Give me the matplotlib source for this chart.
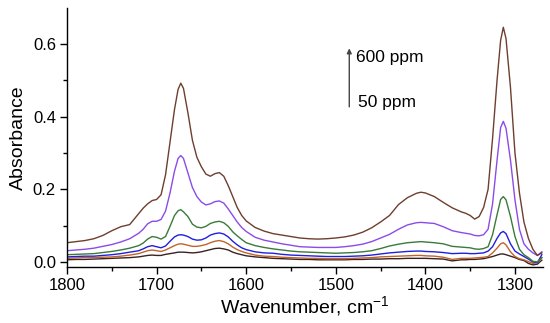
import matplotlib
matplotlib.use("Agg")
import matplotlib.pyplot as plt
from matplotlib.ticker import MultipleLocator

plt.rcParams['font.family'] = ['Liberation Sans', 'DejaVu Sans']
plt.rcParams['mathtext.fontset'] = 'custom'
plt.rcParams['mathtext.rm'] = 'Liberation Sans'
plt.rcParams['mathtext.it'] = 'Liberation Sans:italic'

wavenumber = [1800, 1790, 1780, 1770, 1760, 1750, 1740, 1730, 1720, 1715, 1710, 1705, 1700, 1695,
              1690, 1685, 1680, 1676, 1673, 1670, 1665, 1660, 1655, 1650, 1645, 1640, 1635, 1630,
              1625, 1620, 1615, 1610, 1605, 1600, 1590, 1580, 1570, 1560, 1550, 1540, 1530, 1520,
              1510, 1500, 1490, 1480, 1470, 1460, 1450, 1440, 1430, 1420, 1410, 1405, 1400, 1390,
              1380, 1370, 1360, 1355, 1350, 1345, 1340, 1335, 1330, 1325, 1320, 1316, 1313, 1310,
              1305, 1300, 1295, 1290, 1285, 1280, 1275, 1270]

abs_600 = [0.053, 0.056, 0.059, 0.064, 0.073, 0.086, 0.097, 0.103, 0.133, 0.148, 0.160, 0.169, 0.172, 0.185,
           0.240, 0.330, 0.420, 0.475, 0.492, 0.478, 0.410, 0.335, 0.288, 0.262, 0.242, 0.236, 0.243, 0.246,
           0.236, 0.210, 0.180, 0.150, 0.128, 0.113, 0.095, 0.085, 0.078, 0.074, 0.070, 0.066, 0.064, 0.063,
           0.064, 0.066, 0.069, 0.074, 0.082, 0.094, 0.110, 0.128, 0.158, 0.177, 0.189, 0.192, 0.190, 0.180,
           0.164, 0.149, 0.138, 0.134, 0.128, 0.118, 0.125, 0.150, 0.200, 0.340, 0.500, 0.610, 0.646, 0.615,
           0.480, 0.300, 0.190, 0.110, 0.065, 0.035, 0.018, 0.025]

abs_500 = [0.031, 0.033, 0.035, 0.038, 0.043, 0.048, 0.055, 0.064, 0.079, 0.090, 0.105, 0.112, 0.112, 0.117,
           0.140, 0.190, 0.250, 0.285, 0.293, 0.285, 0.245, 0.205, 0.180, 0.165, 0.157, 0.160, 0.166, 0.168,
           0.162, 0.146, 0.128, 0.110, 0.095, 0.084, 0.068, 0.060, 0.055, 0.050, 0.046, 0.042, 0.041, 0.040,
           0.040, 0.040, 0.042, 0.045, 0.049, 0.056, 0.066, 0.076, 0.090, 0.102, 0.108, 0.109, 0.108, 0.106,
           0.097, 0.086, 0.081, 0.079, 0.077, 0.073, 0.072, 0.075, 0.090, 0.160, 0.280, 0.370, 0.387, 0.368,
           0.280, 0.171, 0.090, 0.050, 0.035, 0.025, 0.018, 0.028]

abs_300 = [0.020, 0.021, 0.022, 0.023, 0.026, 0.029, 0.033, 0.038, 0.045, 0.052, 0.063, 0.070, 0.068, 0.063,
           0.070, 0.098, 0.128, 0.141, 0.144, 0.138, 0.125, 0.104, 0.096, 0.094, 0.098, 0.106, 0.110, 0.112,
           0.108, 0.098, 0.083, 0.072, 0.062, 0.053, 0.045, 0.040, 0.036, 0.033, 0.030, 0.028, 0.027, 0.026,
           0.025, 0.024, 0.025, 0.026, 0.028, 0.031, 0.037, 0.044, 0.049, 0.053, 0.055, 0.056, 0.055, 0.053,
           0.050, 0.043, 0.041, 0.040, 0.039, 0.036, 0.035, 0.037, 0.042, 0.075, 0.130, 0.172, 0.180, 0.171,
           0.125, 0.070, 0.035, 0.020, 0.012, 0.002, 0.000, 0.012]

abs_200 = [0.014, 0.015, 0.016, 0.016, 0.018, 0.020, 0.023, 0.027, 0.031, 0.036, 0.042, 0.045, 0.042, 0.039,
           0.044, 0.057, 0.069, 0.074, 0.075, 0.074, 0.070, 0.063, 0.060, 0.061, 0.066, 0.074, 0.078, 0.080,
           0.077, 0.069, 0.057, 0.047, 0.039, 0.034, 0.028, 0.025, 0.024, 0.021, 0.019, 0.018, 0.017, 0.016,
           0.015, 0.015, 0.015, 0.016, 0.017, 0.019, 0.022, 0.025, 0.027, 0.029, 0.030, 0.030, 0.029, 0.028,
           0.026, 0.023, 0.024, 0.024, 0.023, 0.023, 0.024, 0.025, 0.030, 0.042, 0.065, 0.080, 0.084, 0.078,
           0.050, 0.030, 0.022, 0.015, 0.008, 0.000, -0.002, 0.020]

abs_100 = [0.010, 0.011, 0.012, 0.012, 0.013, 0.014, 0.016, 0.019, 0.023, 0.027, 0.031, 0.033, 0.031, 0.029,
           0.033, 0.039, 0.045, 0.049, 0.050, 0.049, 0.046, 0.043, 0.043, 0.045, 0.048, 0.053, 0.057, 0.059,
           0.056, 0.050, 0.041, 0.034, 0.029, 0.025, 0.019, 0.016, 0.015, 0.013, 0.012, 0.011, 0.010, 0.010,
           0.009, 0.009, 0.009, 0.010, 0.011, 0.012, 0.014, 0.015, 0.016, 0.017, 0.018, 0.018, 0.017, 0.016,
           0.013, 0.007, 0.010, 0.010, 0.010, 0.011, 0.012, 0.013, 0.015, 0.025, 0.038, 0.050, 0.053, 0.047,
           0.028, 0.015, 0.009, 0.006, 0.001, -0.004, -0.002, 0.012]

abs_50 = [0.006, 0.007, 0.007, 0.008, 0.009, 0.010, 0.011, 0.012, 0.014, 0.016, 0.018, 0.019, 0.018, 0.018,
          0.021, 0.023, 0.025, 0.027, 0.027, 0.027, 0.026, 0.025, 0.026, 0.028, 0.031, 0.034, 0.037, 0.038,
          0.036, 0.033, 0.027, 0.023, 0.020, 0.017, 0.014, 0.012, 0.010, 0.009, 0.008, 0.007, 0.007, 0.006,
          0.006, 0.006, 0.006, 0.007, 0.007, 0.008, 0.008, 0.009, 0.009, 0.010, 0.010, 0.010, 0.010, 0.009,
          0.008, 0.003, 0.006, 0.006, 0.007, 0.007, 0.008, 0.009, 0.012, 0.015, 0.019, 0.022, 0.022, 0.020,
          0.016, 0.012, 0.007, 0.004, -0.004, -0.008, -0.006, 0.005]

series = [abs_50, abs_100, abs_200, abs_300, abs_500, abs_600]
colors = ['#3a2222', '#c0642a', '#1f1fe0', '#3a7a3a', '#8a4ce8', '#6e3e2e']

fig = plt.figure(figsize=(5.5, 3.23), dpi=100)
ax = fig.add_axes([0.1218, 0.1734, 0.865, 0.8018])

for ys, c in zip(series, colors):
    ax.plot(wavenumber, ys, color=c, lw=1.0)

ax.set_xlim(1800, 1269)
ax.set_ylim(-0.0138, 0.699)
ax.xaxis.set_major_locator(MultipleLocator(100))
ax.xaxis.set_minor_locator(MultipleLocator(50))
ax.yaxis.set_major_locator(MultipleLocator(0.2))
ax.yaxis.set_minor_locator(MultipleLocator(0.1))
ax.yaxis.set_major_formatter(matplotlib.ticker.FormatStrFormatter('%.1f'))
for s in ['top', 'right']:
    ax.spines[s].set_visible(False)
for s in ['left', 'bottom']:
    ax.spines[s].set_linewidth(1.0)
ax.tick_params(which='major', direction='out', length=5, width=1, labelsize=12, pad=3)
ax.tick_params(which='minor', direction='out', length=3, width=1)

ax.set_xlabel('Wavenumber, cm$^{-1}$', fontsize=14, labelpad=1)
ax.set_ylabel('Absorbance', fontsize=14, labelpad=4)

arrow_x = 1800 - (349.3 - 67) / 0.896
ax.annotate('', xy=(arrow_x, 0.588), xytext=(arrow_x, 0.427),
            arrowprops=dict(arrowstyle='-|>', color='#444444', lw=1.0, mutation_scale=7, shrinkA=0, shrinkB=0))
ax.text(1477, 0.564, '600 ppm', fontsize=12.5, va='center', ha='left')
ax.text(1475, 0.440, '50 ppm', fontsize=12.5, va='center', ha='left')

fig.savefig('out.png', dpi=100)
